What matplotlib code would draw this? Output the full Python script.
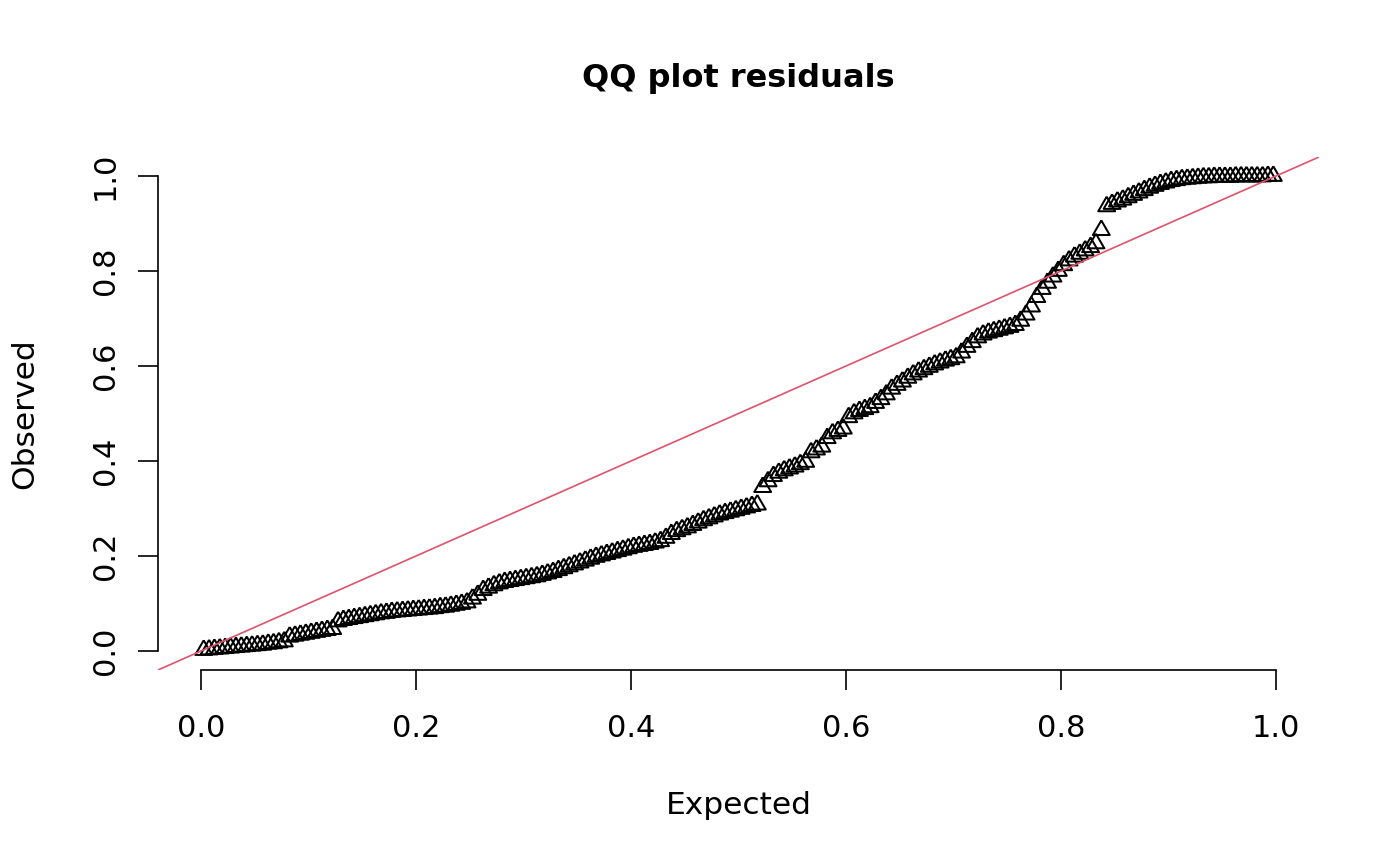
import matplotlib
matplotlib.use('Agg')
import matplotlib.pyplot as plt

# uniform quantiles (x) and sorted scaled residuals (y)
expected = [
    0.0025, 0.0075, 0.0125, 0.0175, 0.0225, 0.0275, 0.0325, 0.0375, 0.0425, 0.0475,
    0.0525, 0.0575, 0.0625, 0.0675, 0.0725, 0.0775, 0.0825, 0.0875, 0.0925, 0.0975,
    0.1025, 0.1075, 0.1125, 0.1175, 0.1225, 0.1275, 0.1325, 0.1375, 0.1425, 0.1475,
    0.1525, 0.1575, 0.1625, 0.1675, 0.1725, 0.1775, 0.1825, 0.1875, 0.1925, 0.1975,
    0.2025, 0.2075, 0.2125, 0.2175, 0.2225, 0.2275, 0.2325, 0.2375, 0.2425, 0.2475,
    0.2525, 0.2575, 0.2625, 0.2675, 0.2725, 0.2775, 0.2825, 0.2875, 0.2925, 0.2975,
    0.3025, 0.3075, 0.3125, 0.3175, 0.3225, 0.3275, 0.3325, 0.3375, 0.3425, 0.3475,
    0.3525, 0.3575, 0.3625, 0.3675, 0.3725, 0.3775, 0.3825, 0.3875, 0.3925, 0.3975,
    0.4025, 0.4075, 0.4125, 0.4175, 0.4225, 0.4275, 0.4325, 0.4375, 0.4425, 0.4475,
    0.4525, 0.4575, 0.4625, 0.4675, 0.4725, 0.4775, 0.4825, 0.4875, 0.4925, 0.4975,
    0.5025, 0.5075, 0.5125, 0.5175, 0.5225, 0.5275, 0.5325, 0.5375, 0.5425, 0.5475,
    0.5525, 0.5575, 0.5625, 0.5675, 0.5725, 0.5775, 0.5825, 0.5875, 0.5925, 0.5975,
    0.6025, 0.6075, 0.6125, 0.6175, 0.6225, 0.6275, 0.6325, 0.6375, 0.6425, 0.6475,
    0.6525, 0.6575, 0.6625, 0.6675, 0.6725, 0.6775, 0.6825, 0.6875, 0.6925, 0.6975,
    0.7025, 0.7075, 0.7125, 0.7175, 0.7225, 0.7275, 0.7325, 0.7375, 0.7425, 0.7475,
    0.7525, 0.7575, 0.7625, 0.7675, 0.7725, 0.7775, 0.7825, 0.7875, 0.7925, 0.7975,
    0.8025, 0.8075, 0.8125, 0.8175, 0.8225, 0.8275, 0.8325, 0.8375, 0.8425, 0.8475,
    0.8525, 0.8575, 0.8625, 0.8675, 0.8725, 0.8775, 0.8825, 0.8875, 0.8925, 0.8975,
    0.9025, 0.9075, 0.9125, 0.9175, 0.9225, 0.9275, 0.9325, 0.9375, 0.9425, 0.9475,
    0.9525, 0.9575, 0.9625, 0.9675, 0.9725, 0.9775, 0.9825, 0.9875, 0.9925, 0.9975,
]

observed = [
    0.002, 0.003, 0.004, 0.005, 0.006, 0.007, 0.008, 0.009, 0.010, 0.011,
    0.012, 0.013, 0.015, 0.016, 0.018, 0.020, 0.030, 0.032, 0.034, 0.036,
    0.038, 0.040, 0.042, 0.044, 0.046, 0.062, 0.065, 0.067, 0.069, 0.071,
    0.073, 0.075, 0.077, 0.079, 0.080, 0.082, 0.083, 0.084, 0.085, 0.086,
    0.087, 0.088, 0.089, 0.090, 0.092, 0.093, 0.095, 0.097, 0.099, 0.102,
    0.110, 0.118, 0.128, 0.133, 0.138, 0.142, 0.145, 0.147, 0.149, 0.151,
    0.153, 0.155, 0.157, 0.160, 0.163, 0.166, 0.170, 0.174, 0.178, 0.182,
    0.186, 0.190, 0.194, 0.198, 0.201, 0.204, 0.207, 0.210, 0.213, 0.216,
    0.219, 0.221, 0.223, 0.225, 0.228, 0.231, 0.238, 0.246, 0.252, 0.256,
    0.260, 0.265, 0.270, 0.275, 0.279, 0.283, 0.287, 0.290, 0.293, 0.296,
    0.299, 0.302, 0.305, 0.308, 0.345, 0.357, 0.368, 0.375, 0.380, 0.384,
    0.388, 0.393, 0.398, 0.418, 0.424, 0.430, 0.448, 0.458, 0.463, 0.468,
    0.492, 0.500, 0.505, 0.509, 0.513, 0.522, 0.530, 0.540, 0.552, 0.560,
    0.567, 0.575, 0.582, 0.588, 0.593, 0.598, 0.603, 0.607, 0.611, 0.614,
    0.618, 0.628, 0.640, 0.650, 0.660, 0.666, 0.670, 0.673, 0.676, 0.679,
    0.682, 0.686, 0.695, 0.708, 0.725, 0.745, 0.762, 0.775, 0.788, 0.800,
    0.812, 0.822, 0.830, 0.836, 0.843, 0.850, 0.858, 0.886, 0.936, 0.941,
    0.946, 0.950, 0.955, 0.960, 0.965, 0.970, 0.975, 0.979, 0.983, 0.986,
    0.989, 0.991, 0.993, 0.994, 0.995, 0.996, 0.997, 0.997, 0.998, 0.998,
    0.998, 0.998, 0.999, 0.999, 0.999, 0.999, 0.999, 0.999, 1.000, 1.000,
]

ticks = [0.0, 0.2, 0.4, 0.6, 0.8, 1.0]
tick_labels = ['0.0', '0.2', '0.4', '0.6', '0.8', '1.0']

# R's pch=2 open triangle, centred on its centroid
tri = [(0, 1), (-0.866, -0.5), (0.866, -0.5), (0, 1)]

fig = plt.figure(figsize=(14, 8.66), dpi=100)
ax = fig.add_axes([158/1400, 1 - 670/866, 1161/1400, 513/866])

ax.scatter(expected, observed, marker=tri, s=14**2, facecolors='none',
           edgecolors='black', linewidths=1.45, zorder=2)
ax.axline((0, 0), slope=1, color='#DF536B', lw=1.2, zorder=3)

ax.set_xlim(-0.04, 1.04)
ax.set_ylim(-0.04, 1.04)

for side in ['top', 'right']:
    ax.spines[side].set_visible(False)
ax.spines['bottom'].set_bounds(0, 1)
ax.spines['left'].set_bounds(0, 1)
for side in ['bottom', 'left']:
    ax.spines[side].set_linewidth(1.2)

ax.set_xticks(ticks)
ax.set_xticklabels(tick_labels)
ax.set_yticks(ticks)
ax.set_yticklabels(tick_labels, rotation=90, va='center')
ax.tick_params(axis='both', length=14.4, width=1.2, labelsize=22)
ax.tick_params(axis='x', pad=17)
ax.tick_params(axis='y', pad=13)

fig.text(738.5/1400, 1 - 87/866, 'QQ plot residuals', ha='center',
         va='baseline', fontsize=23, fontweight='bold')
fig.text(738.5/1400, 1 - 805/866, 'Expected', ha='center', va='center',
         fontsize=22.5)
fig.text(25/1400, 1 - 414/866, 'Observed', ha='center', va='center',
         rotation=90, fontsize=22.5)

fig.savefig('out.png', dpi=100)
